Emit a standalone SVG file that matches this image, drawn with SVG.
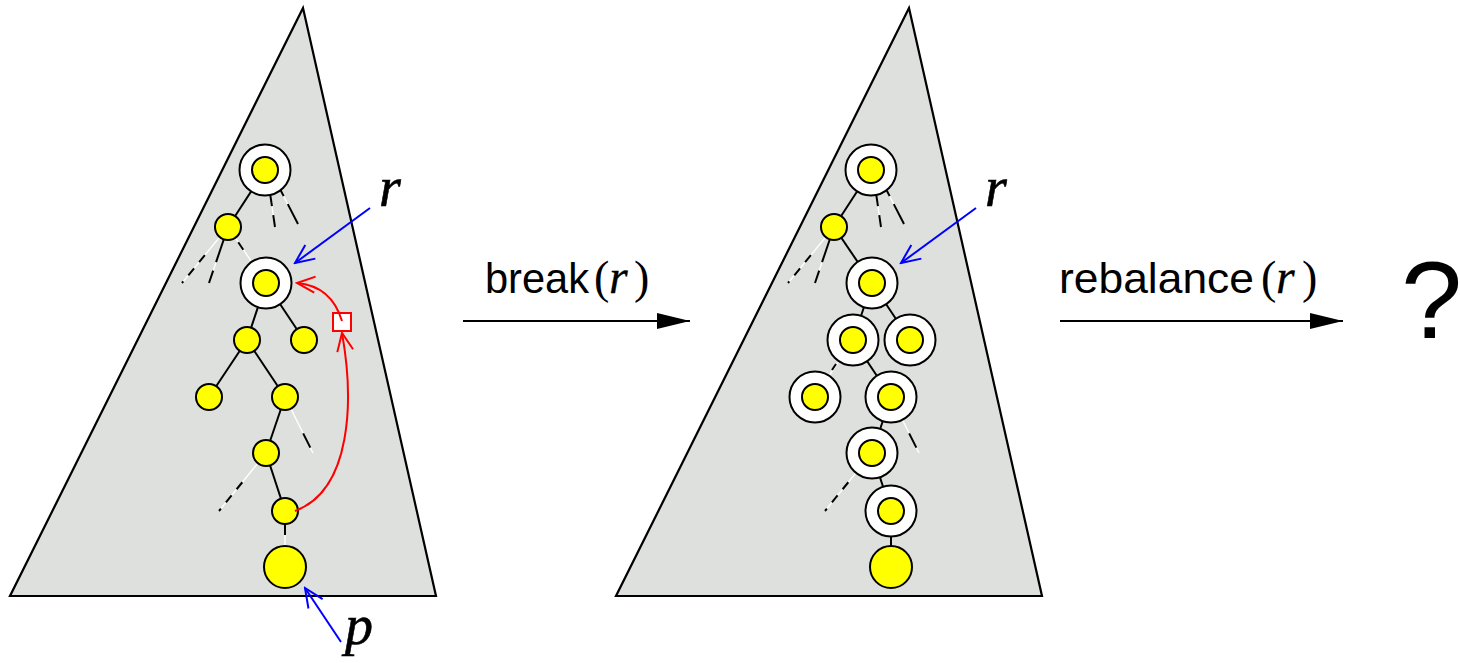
<svg xmlns="http://www.w3.org/2000/svg" width="1460" height="663" viewBox="0 0 1460 663">
<style>
.tri{fill:#dde0dd;stroke:#000;stroke-width:2.2;stroke-linejoin:miter}
.edge{stroke:#000;stroke-width:2;fill:none}
.dw{stroke:#fff;stroke-width:1.4;fill:none}
.db{stroke:#000;stroke-width:2;fill:none;stroke-dasharray:9 7}
.outer{fill:#fff;stroke:#000;stroke-width:2}
.node{fill:#ffff00;stroke:#000;stroke-width:2}
.blue{stroke:#0000ff;stroke-width:2;fill:none}
.red{stroke:#ff0000;stroke-width:2;fill:none}
.sans{font-family:"Liberation Sans",Arial,sans-serif;font-size:42px;fill:#000}
.math{font-family:"Liberation Serif","Times New Roman",serif;fill:#000}
.it{font-style:italic}
.lbl{font-size:56px;stroke:#000;stroke-width:0.6}
</style>
<defs>
<marker id="ab" markerUnits="userSpaceOnUse" viewBox="-22 -12 24 24" refX="0" refY="0" markerWidth="24" markerHeight="24" orient="auto">
<path d="M-19,-8.5 L0,0 L-19,8.5" fill="none" stroke="#0000ff" stroke-width="2"/>
</marker>
<marker id="ar" markerUnits="userSpaceOnUse" viewBox="-22 -12 24 24" refX="0" refY="0" markerWidth="24" markerHeight="24" orient="auto">
<path d="M-18,-8 L0,0 L-18,8" fill="none" stroke="#ff0000" stroke-width="2"/>
</marker>
<marker id="af" markerUnits="userSpaceOnUse" viewBox="-34 -9 36 18" refX="0" refY="0" markerWidth="36" markerHeight="18" orient="auto">
<path d="M-33,-8 L0,0 L-33,8 Z" fill="#000"/>
</marker>
</defs>

<g id="triangle-left"><polygon class="tri" points="303,8 10,596 436,596"/></g>
<g id="triangle-right"><polygon class="tri" points="909,8 616,596 1042,596"/></g>

<g id="connectors">
  <line class="edge" x1="265" y1="170" x2="228" y2="227"/>
  <line class="edge" x1="266" y1="283" x2="247" y2="340"/>
  <line class="edge" x1="266" y1="283" x2="304" y2="340"/>
  <line class="edge" x1="247" y1="340" x2="209" y2="397"/>
  <line class="edge" x1="247" y1="340" x2="285" y2="397"/>
  <line class="edge" x1="285" y1="397" x2="266" y2="453"/>
  <line class="edge" x1="266" y1="453" x2="285" y2="511"/>
  <path class="dw" d="M228,227 L266,283 M285,511 L285,567 M270,193 L275,227 M280,189 L298,224 M228,227 L182,283 M228,227 L209,283 M285,397 L313,453 M266,453 L219,511"/>
  <path class="db" d="M236,239 L251,261" style="stroke-dasharray:0 4 9 30"/>
  <path class="db" d="M285,524 L285,546" style="stroke-dasharray:11 20"/>
  <path class="db" d="M275,227 L270,193" style="stroke-dasharray:12 9 20"/>
  <path class="db" d="M280,189 L298,224" style="stroke-dasharray:8 9 30"/>
  <path class="db" d="M182,283 L228,227" style="stroke-dasharray:2 8 9 8 9 40"/>
  <path class="db" d="M209,283 L228,227" style="stroke-dasharray:13 9 40"/>
  <path class="db" d="M313,453 L285,397" style="stroke-dasharray:0 6 16 40"/>
  <path class="db" d="M219,511 L266,453" style="stroke-dasharray:3 8 9 8 9 40"/>

  <line class="edge" x1="871" y1="170" x2="834" y2="227"/>
  <line class="edge" x1="834" y1="227" x2="872" y2="283"/>
  <line class="edge" x1="872" y1="283" x2="910" y2="340"/>
  <line class="edge" x1="872" y1="283" x2="853" y2="340"/>
  <path class="dw" d="M853,340 L815,397"/>
  <line class="edge" x1="836" y1="364" x2="832" y2="370"/>
  <line class="edge" x1="853" y1="340" x2="891" y2="397"/>
  <line class="edge" x1="891" y1="397" x2="872" y2="453"/>
  <line class="edge" x1="872" y1="453" x2="891" y2="511"/>
  <line class="edge" x1="891" y1="511" x2="891" y2="567"/>
  <path class="dw" d="M876,193 L881,227 M886,189 L904,224 M834,227 L788,283 M834,227 L815,283 M891,397 L919,453 M872,453 L825,511"/>
  <path class="db" d="M881,227 L876,193" style="stroke-dasharray:12 9 20"/>
  <path class="db" d="M886,189 L904,224" style="stroke-dasharray:8 9 30"/>
  <path class="db" d="M788,283 L834,227" style="stroke-dasharray:2 8 9 8 9 40"/>
  <path class="db" d="M815,283 L834,227" style="stroke-dasharray:13 9 40"/>
  <path class="db" d="M919,453 L891,397" style="stroke-dasharray:0 6 16 40"/>
  <path class="db" d="M825,511 L872,453" style="stroke-dasharray:3 8 9 8 9 40"/>
</g>

<g id="left-tree">
  <g id="L-A"><circle class="outer" cx="265" cy="170" r="25.5"/><circle class="node" cx="265" cy="170" r="13"/></g>
  <g id="L-B"><circle class="node" cx="228" cy="227" r="13"/></g>
  <g id="L-R"><circle class="outer" cx="266" cy="283" r="25.5"/><circle class="node" cx="266" cy="283" r="13"/></g>
  <g id="L-C"><circle class="node" cx="247" cy="340" r="13"/></g>
  <g id="L-D"><circle class="node" cx="304" cy="340" r="13"/></g>
  <g id="L-E"><circle class="node" cx="209" cy="397" r="13"/></g>
  <g id="L-F"><circle class="node" cx="285" cy="397" r="13"/></g>
  <g id="L-G"><circle class="node" cx="266" cy="453" r="13"/></g>
  <g id="L-H"><circle class="node" cx="285" cy="511" r="13"/></g>
  <g id="L-P"><circle class="node" cx="285" cy="567" r="21"/></g>
</g>

<g id="right-tree">
  <g id="R-A"><circle class="outer" cx="871" cy="170" r="25.5"/><circle class="node" cx="871" cy="170" r="13"/></g>
  <g id="R-B"><circle class="node" cx="834" cy="227" r="13"/></g>
  <g id="R-R"><circle class="outer" cx="872" cy="283" r="25.5"/><circle class="node" cx="872" cy="283" r="13"/></g>
  <g id="R-C"><circle class="outer" cx="853" cy="340" r="25.5"/><circle class="node" cx="853" cy="340" r="13"/></g>
  <g id="R-D"><circle class="outer" cx="910" cy="340" r="25.5"/><circle class="node" cx="910" cy="340" r="13"/></g>
  <g id="R-E"><circle class="outer" cx="815" cy="397" r="25.5"/><circle class="node" cx="815" cy="397" r="13"/></g>
  <g id="R-F"><circle class="outer" cx="891" cy="397" r="25.5"/><circle class="node" cx="891" cy="397" r="13"/></g>
  <g id="R-G"><circle class="outer" cx="872" cy="453" r="25.5"/><circle class="node" cx="872" cy="453" r="13"/></g>
  <g id="R-H"><circle class="outer" cx="891" cy="511" r="25.5"/><circle class="node" cx="891" cy="511" r="13"/></g>
  <g id="R-P"><circle class="node" cx="891" cy="567" r="21"/></g>
</g>

<g id="red-pointer">
  <rect x="333" y="313" width="18" height="18" fill="#fff" stroke="#ff0000" stroke-width="2"/>
  <path class="red" d="M295,511 C352,490 354,400 342,333" marker-end="url(#ar)"/>
  <path class="red" d="M342,321 C335,298 320,285 297,283" marker-end="url(#ar)"/>
</g>

<g id="labels">
  <path class="blue" d="M370,208 L295,263" marker-end="url(#ab)"/>
  <text class="math it lbl" x="379" y="206">r</text>
  <path class="blue" d="M976,208 L901,263" marker-end="url(#ab)"/>
  <text class="math it lbl" x="985" y="206">r</text>
  <path class="blue" d="M341,642 L305,588" marker-end="url(#ab)"/>
  <text class="math it lbl" x="345" y="644">p</text>
</g>

<g id="op-break">
  <line x1="463" y1="321" x2="690" y2="321" stroke="#000" stroke-width="2" marker-end="url(#af)"/>
  <text class="sans" x="485" y="293" textLength="104" lengthAdjust="spacingAndGlyphs">break</text>
  <text class="math" x="594" y="293" style="font-size:46px">(<tspan class="it" x="609" style="font-size:48px;stroke:#000;stroke-width:0.3">r</tspan><tspan x="634">)</tspan></text>
</g>
<g id="op-rebalance">
  <line x1="1060" y1="321" x2="1343" y2="321" stroke="#000" stroke-width="2" marker-end="url(#af)"/>
  <text class="sans" x="1059" y="293" textLength="195" lengthAdjust="spacingAndGlyphs">rebalance</text>
  <text class="math" x="1261" y="293" style="font-size:46px">(<tspan class="it" x="1276" style="font-size:48px;stroke:#000;stroke-width:0.3">r</tspan><tspan x="1302">)</tspan></text>
</g>
<g id="result">
  <text class="sans" x="1401" y="338" style="font-size:110px">?</text>
</g>
</svg>
